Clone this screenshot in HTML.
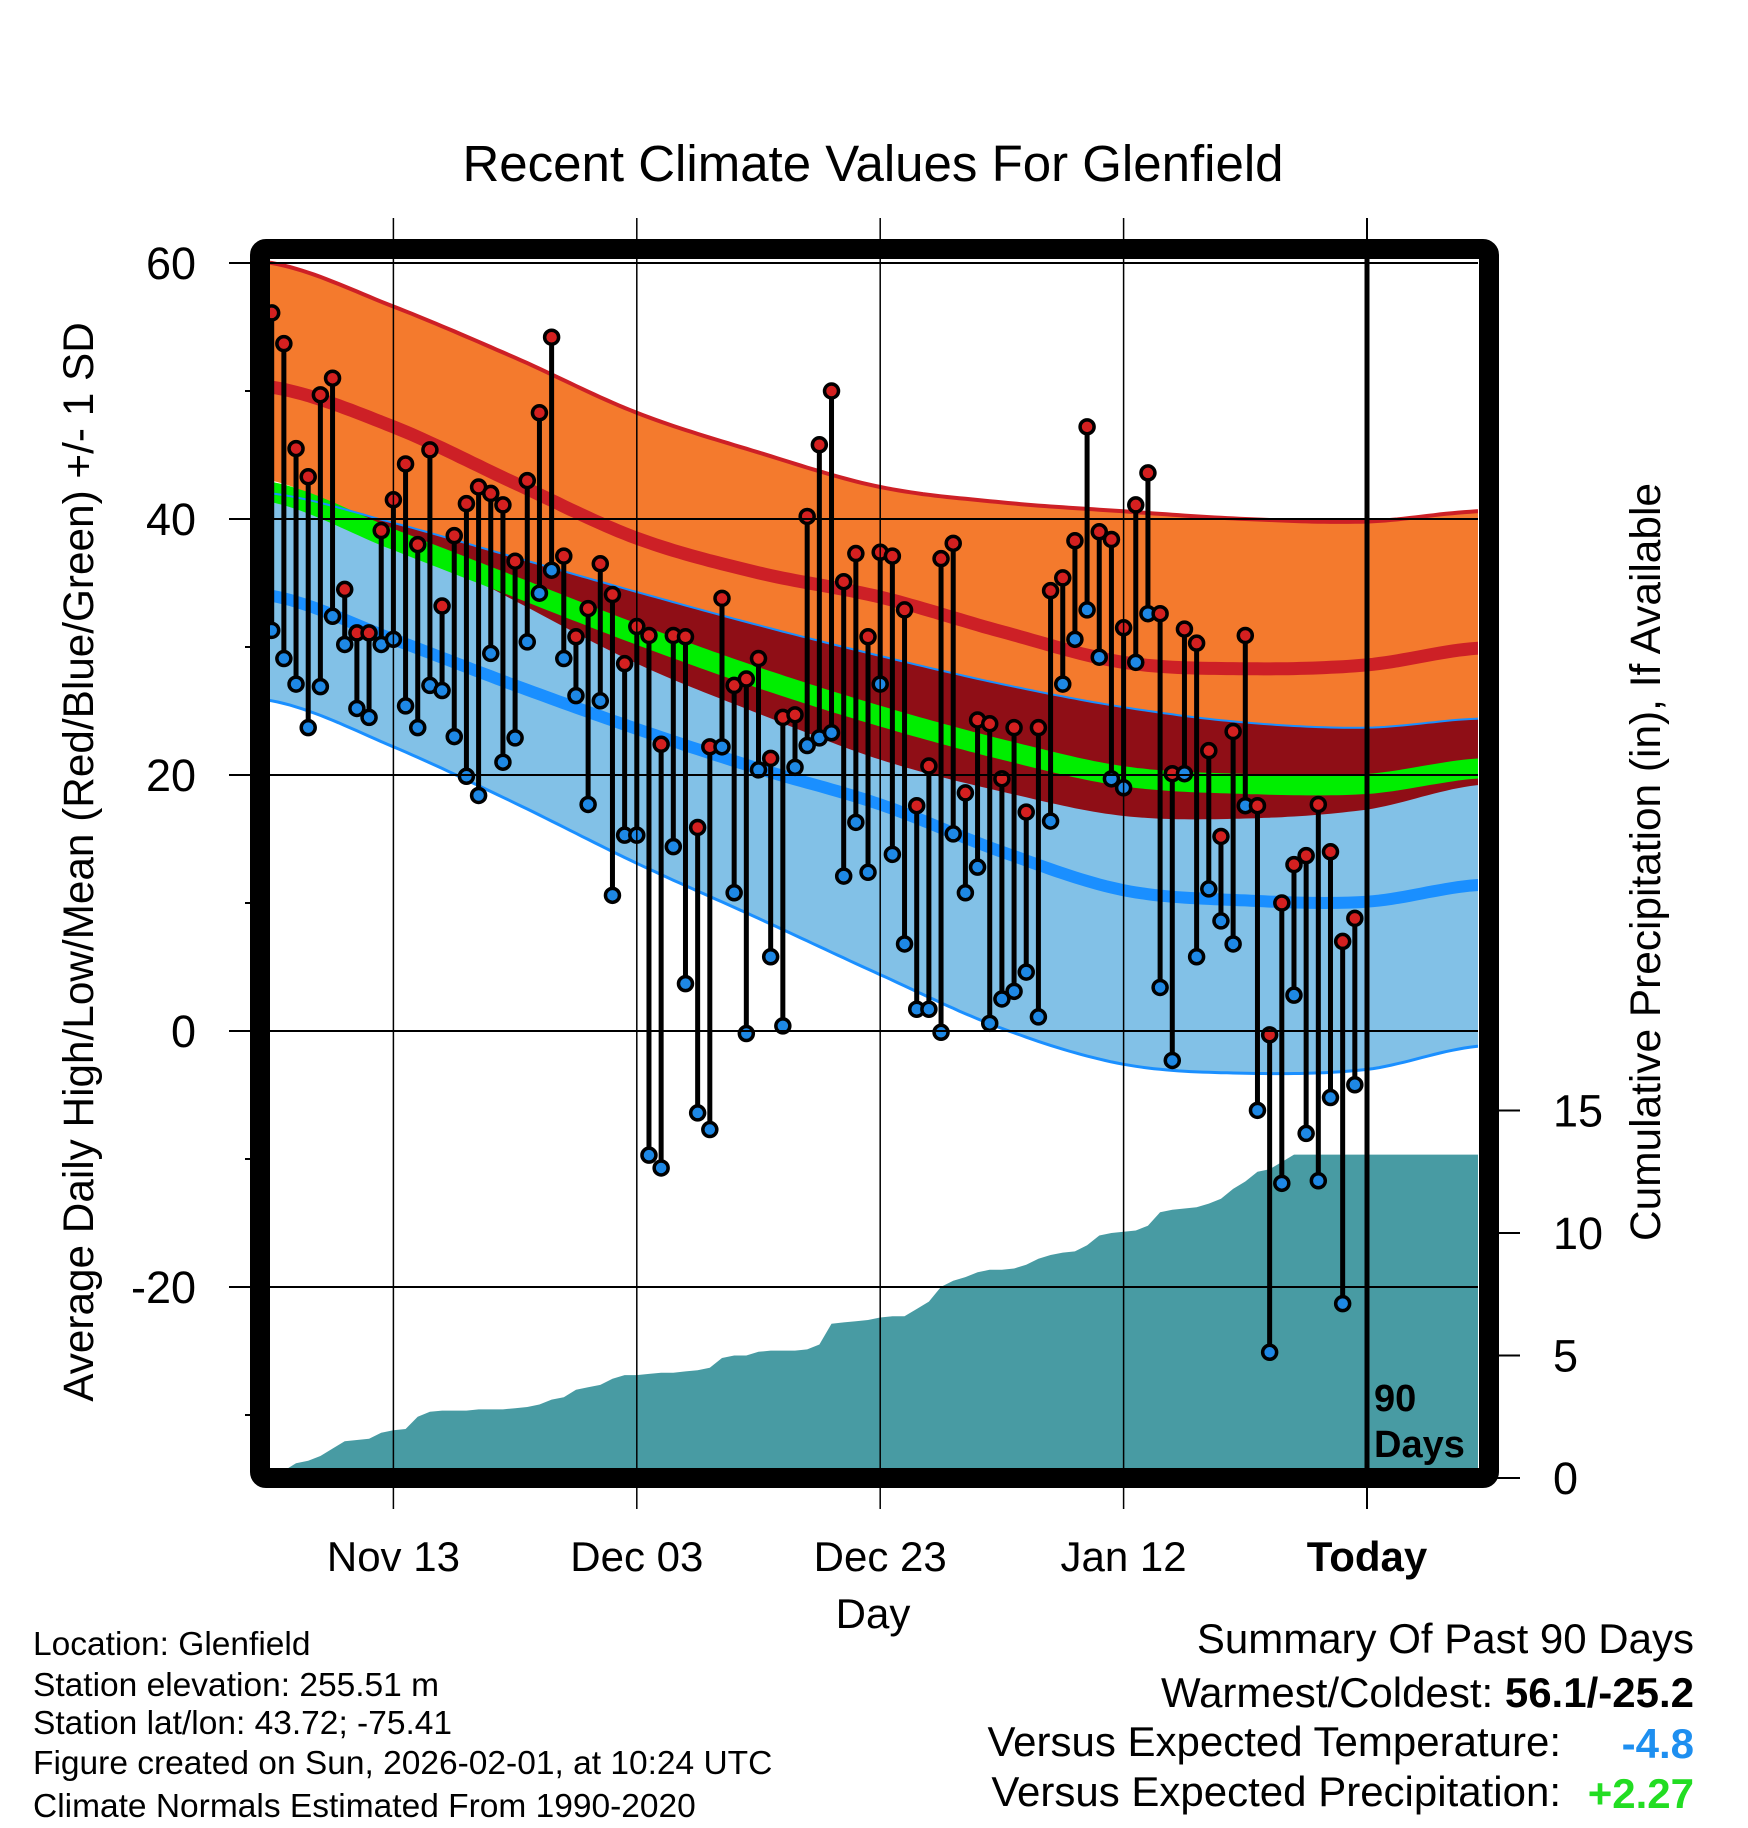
<!DOCTYPE html>
<html><head><meta charset="utf-8">
<style>
html,body{margin:0;padding:0;background:#fff;}
svg{display:block;font-family:"Liberation Sans",Arial,sans-serif;}
</style></head>
<body>
<svg id="chart" width="1748" height="1828" viewBox="0 0 1748 1828" xmlns="http://www.w3.org/2000/svg">
<defs><clipPath id="plotclip"><rect x="270" y="260" width="1208" height="1208"/></clipPath></defs>
<g id="plot" clip-path="url(#plotclip)"></g>
<g id="axes"></g>
<text x="873" y="181" font-size="51" text-anchor="middle">Recent Climate Values For Glenfield</text>
<text transform="translate(93,862) rotate(-90)" font-size="42.3" text-anchor="middle">Average Daily High/Low/Mean (Red/Blue/Green) +/- 1 SD</text>
<text transform="translate(1660,862) rotate(-90)" font-size="42.4" text-anchor="middle">Cumulative Precipitation (in), If Available</text>
<text x="873" y="1628" font-size="42" text-anchor="middle">Day</text>
<text x="1374" y="1411" font-size="38" font-weight="bold">90</text>
<text x="1374" y="1457" font-size="38" font-weight="bold">Days</text>
<g font-size="33.5">
<text x="33" y="1655">Location: Glenfield</text>
<text x="33" y="1696">Station elevation: 255.51 m</text>
<text x="33" y="1734">Station lat/lon: 43.72; -75.41</text>
<text x="33" y="1774">Figure created on Sun, 2026-02-01, at 10:24 UTC</text>
<text x="33" y="1817">Climate Normals Estimated From 1990-2020</text>
</g>
<g font-size="42">
<text x="1694" y="1653" text-anchor="end">Summary Of Past 90 Days</text>
<text x="1694" y="1707" text-anchor="end">Warmest/Coldest: <tspan font-weight="bold">56.1/-25.2</tspan></text>
<text x="1561" y="1756" text-anchor="end">Versus Expected Temperature:</text>
<text x="1694" y="1758" text-anchor="end" font-weight="bold" fill="#1E8FF0">-4.8</text>
<text x="1561" y="1806" text-anchor="end">Versus Expected Precipitation:</text>
<text x="1694" y="1808" text-anchor="end" font-weight="bold" fill="#22DD22">+2.27</text>
</g>
</svg>
<script>
// ---- data ----
const normDays = [-90,-80,-70,-60,-50,-40,-30,-20,-10,0,9];
const highUpper = [60,56.6,52.6,48.3,45.2,42.5,41.3,40.6,40,39.8,40.6];
const highMean = [50.3,47.2,42.8,38.5,35.8,33.9,31.2,28.8,28.3,28.6,29.9];
const highLower = [43,38.6,33.6,28.7,24.8,21.2,18.7,16.8,16.6,17.3,19.2];
const meanTemp = [42.1,38.4,34.7,31,27.6,24.6,22,19.9,19.3,19.3,20.5];
const lowUpper = [42,39.7,37,34.3,31.7,29.3,27.1,25.3,24.1,23.7,24.4];
const lowMean = [34,30.6,27,23.6,20.5,17.7,14,11,10.2,10.1,11.4];
const lowLower = [25.8,22.2,17.8,13.1,8.8,4.4,0.2,-2.6,-3.3,-3,-1.2];
const highs = [56.1,53.7,45.5,43.3,49.7,51,34.5,31.1,31.1,39.1,41.5,44.3,38,45.4,33.2,38.7,41.2,42.5,42,41.1,36.7,43,48.3,54.2,37.1,30.8,33,36.5,34.1,28.7,31.6,30.9,22.4,30.9,30.8,15.9,22.2,33.8,27,27.5,29.1,21.3,24.5,24.7,40.2,45.8,50,35.1,37.3,30.8,37.4,37.1,32.9,17.6,20.7,36.9,38.1,18.6,24.3,24,19.7,23.7,17.1,23.7,34.4,35.4,38.3,47.2,39,38.4,31.5,41.1,43.6,32.6,20.1,31.4,30.3,21.9,15.2,23.4,30.9,17.6,-0.3,10,13,13.7,17.7,14,7,8.8];
const lows = [31.3,29.1,27.1,23.7,26.9,32.4,30.2,25.2,24.5,30.2,30.6,25.4,23.7,27,26.6,23,19.9,18.4,29.5,21,22.9,30.4,34.2,36,29.1,26.2,17.7,25.8,10.6,15.3,15.3,-9.7,-10.7,14.4,3.7,-6.4,-7.7,22.2,10.8,-0.2,20.4,5.8,0.4,20.6,22.3,22.9,23.3,12.1,16.3,12.4,27.1,13.8,6.8,1.7,1.7,-0.1,15.4,10.8,12.8,0.6,2.5,3.1,4.6,1.1,16.4,27.1,30.6,32.9,29.2,19.7,19,28.8,32.6,3.4,-2.3,20.1,5.8,11.1,8.6,6.8,17.6,-6.2,-25.1,-11.9,2.8,-8,-11.7,-5.2,-21.3,-4.2];
const precipCum = [0,0.3,0.6,0.7,0.9,1.2,1.5,1.55,1.6,1.85,1.95,2,2.5,2.7,2.75,2.75,2.75,2.8,2.8,2.8,2.85,2.9,3,3.2,3.3,3.6,3.7,3.8,4.05,4.2,4.2,4.25,4.3,4.3,4.35,4.4,4.5,4.9,5,5,5.15,5.2,5.2,5.2,5.25,5.45,6.3,6.35,6.4,6.45,6.55,6.6,6.6,6.9,7.2,7.8,8.05,8.2,8.4,8.5,8.5,8.55,8.7,8.95,9.1,9.2,9.25,9.5,9.9,10,10.05,10.1,10.3,10.85,10.95,11,11.05,11.2,11.4,11.8,12.1,12.5,12.6,12.9,13.2,13.2,13.2,13.2,13.2,13.2];
const dateTicks = [-80,-60,-40,-20,0];
const dateLabels = ["Nov 13","Dec 03","Dec 23","Jan 12","Today"];
const tempTicks = [60,40,20,0,-20];
const tempMinor = [50,30,10,-10,-30];
const precipTicks = [0,5,10,15];

// ---- axis functions ----
const xDay = d => 1367 + d*12.17;
const yT = t => 263 + (60 - t)*12.8;
const yP = p => 1478 - p*24.5;
const NS = "http://www.w3.org/2000/svg";
function mk(tag, attrs, parent){const e=document.createElementNS(NS,tag);for(const k in attrs)e.setAttribute(k,attrs[k]);parent.appendChild(e);return e;}
function interp(arr, d){
  let i=0; while(i<normDays.length-2 && d>normDays[i+1]) i++;
  const d0=normDays[i], d1=normDays[i+1], t=(d-d0)/(d1-d0);
  const p0=arr[Math.max(i-1,0)], p1=arr[i], p2=arr[i+1], p3=arr[Math.min(i+2,arr.length-1)];
  const t2=t*t, t3=t2*t;
  return 0.5*((2*p1)+(-p0+p2)*t+(2*p0-5*p1+4*p2-p3)*t2+(-p0+3*p1-3*p2+p3)*t3);
}
const fineDays=[]; for(let d=-91; d<=10; d+=0.5) fineDays.push(d);
const curve = arr => fineDays.map(d=>[xDay(d), yT(interp(arr,d))]);
const pts = a => a.map(p=>p[0].toFixed(1)+","+p[1].toFixed(1)).join(" ");
function band(top, bot){return pts(curve(top)) + " " + pts(curve(bot).reverse());}

const plot=document.getElementById('plot');
const axes=document.getElementById('axes');

// precipitation area
let pp = precipCum.map((v,i)=>[xDay(-90+i), yP(v)]);
pp.push([1480, yP(precipCum[precipCum.length-1])]);
const precipArea = mk('polygon',{points: xDay(-90)+","+1470+" "+pts(pp)+" 1480,1470", fill:"#489BA3"}, plot);



const orange = mk('polygon',{points: band(highUpper, highLower), fill:"#F47A2D"}, plot);


const lblue = mk('polygon',{points: band(lowUpper, lowLower), fill:"#82C1E7"}, plot);


// overlap
const topO = curve(lowUpper), botRaw = curve(highLower);
const botO = botRaw.map((p,i)=>[p[0], Math.max(p[1], topO[i][1])]);
const overlap = mk('polygon',{points: pts(topO)+" "+pts(botO.reverse()), fill:"#8F0E16"}, plot);



const lines = [
 [highMean,"#CD2026",13,'high-mean-line'],
 [lowMean,"#1A8FFF",12,'low-mean-line'],
 [meanTemp,"#00EE00",20,'mean-temp-line'],
 [highUpper,"#CD2026",4,'high-upper-line'],
 [lowUpper,"#1A8FFF",2,'low-upper-line'],
 [lowLower,"#1A8FFF",3,'low-lower-line']
];
lines.forEach(l=>{
  const e = mk('polyline',{points: pts(curve(l[0])), fill:"none", stroke:l[1], "stroke-width":l[2]}, plot);
  
  
});

// grid lines
tempTicks.forEach(t=>{
  const g = mk('line',{x1:229,x2:1478,y1:yT(t),y2:yT(t),stroke:"#000","stroke-width":2}, axes);
  
  
  const lb = mk('text',{x:196,y:yT(t)+16,"font-size":45,"text-anchor":"end"}, axes);
  lb.textContent = t;
  
  
});
tempMinor.forEach(t=>{
  const g = mk('line',{x1:245,x2:262,y1:yT(t),y2:yT(t),stroke:"#000","stroke-width":2}, axes);
  
  
});
dateTicks.forEach((d,i)=>{
  const g = mk('line',{x1:xDay(d),x2:xDay(d),y1:218,y2:1509,stroke:"#000","stroke-width":d===0?2:1.5}, axes);
  
  
  const lb = mk('text',{x:xDay(d),y:1571,"font-size":42,"text-anchor":"middle"}, axes);
  if(d===0) lb.setAttribute('font-weight','bold');
  lb.textContent = dateLabels[i];
  
  
});
precipTicks.forEach(p=>{
  const g = mk('line',{x1:1495,x2:1520,y1:yP(p),y2:yP(p),stroke:"#000","stroke-width":2}, axes);
  
  
  const lb = mk('text',{x:1553,y:yP(p)+16,"font-size":45}, axes);
  lb.textContent = p;
  
  
});

// stems and points
highs.forEach((h,i)=>{
  const x = xDay(-90+i), lo = lows[i];
  const st = mk('line',{x1:x,x2:x,y1:yT(h),y2:yT(lo),stroke:"#000","stroke-width":5}, plot);
  
  
});
highs.forEach((h,i)=>{
  const x = xDay(-90+i), lo = lows[i];
  const cl = mk('circle',{cx:x,cy:yT(lo),r:7,fill:"#1E88E5",stroke:"#000","stroke-width":3.5}, plot);
  
  
  const ch = mk('circle',{cx:x,cy:yT(h),r:7,fill:"#D42020",stroke:"#000","stroke-width":3.5}, plot);
  
  
});

// today line
const today = mk('line',{x1:xDay(0),x2:xDay(0),y1:255,y2:1470,stroke:"#000","stroke-width":5}, axes);



// frame
const frame = mk('rect',{x:260,y:249,width:1229,height:1229,rx:6,fill:"none",stroke:"#000","stroke-width":20}, axes);


</script>
</body></html>
